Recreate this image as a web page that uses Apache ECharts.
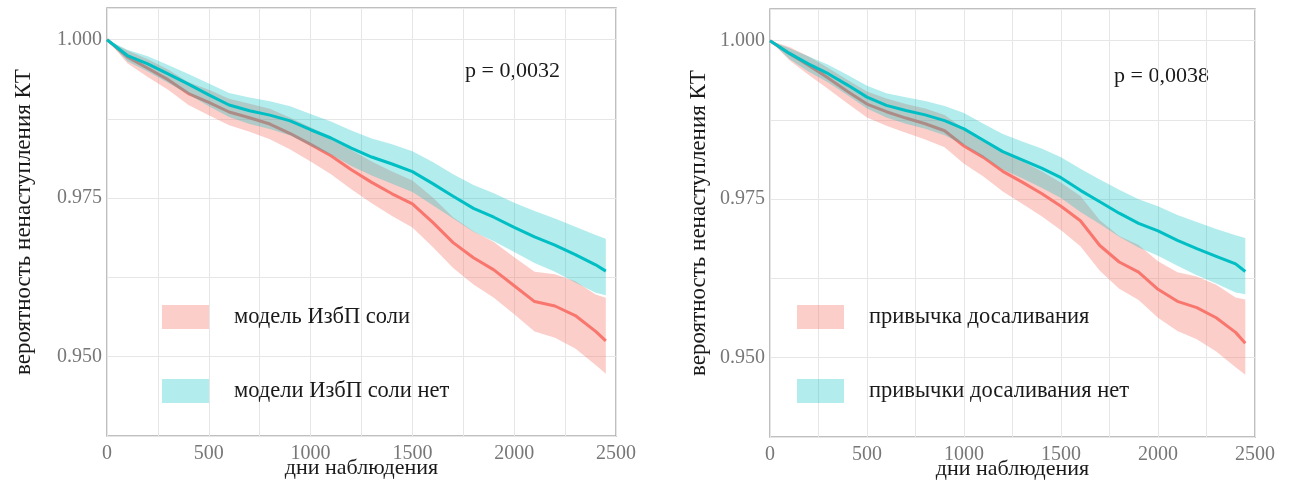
<!DOCTYPE html>
<html>
<head>
<meta charset="utf-8">
<script src="https://cdn.jsdelivr.net/npm/echarts@6/dist/echarts.min.js"></script>
<style>
html,body{margin:0;padding:0;background:#fff;}
#chart{width:1291px;height:481px;}
</style>
</head>
<body>
<div id="chart"></div>
<script>
// ---- data ----
const days = [0,100,200,300,400,500,600,700,800,900,1000,1100,1200,1300,1400,1500,1600,1700,1800,1900,2000,2100,2200,2300,2400,2450];

// left panel: "модель ИзбП соли" (red) / "модели ИзбП соли нет" (teal)
const leftYesLine = [1.0000,0.9973,0.9955,0.9937,0.9915,0.9901,0.9886,0.9877,0.9867,0.9852,0.9835,0.9817,0.9795,0.9775,0.9757,0.9741,0.9712,0.9680,0.9656,0.9637,0.9612,0.9587,0.9580,0.9565,0.9540,0.9525];
const leftYesLow  = [1.0000,0.9963,0.9941,0.9921,0.9897,0.9881,0.9865,0.9855,0.9843,0.9827,0.9808,0.9788,0.9764,0.9742,0.9722,0.9704,0.9673,0.9640,0.9614,0.9593,0.9567,0.9540,0.9530,0.9513,0.9487,0.9473];
const leftYesUp   = [1.0000,0.9983,0.9969,0.9953,0.9933,0.9921,0.9907,0.9899,0.9891,0.9877,0.9862,0.9846,0.9826,0.9808,0.9792,0.9778,0.9751,0.9720,0.9698,0.9681,0.9657,0.9634,0.9630,0.9619,0.9598,0.9593];
const leftNoLine  = [1.0000,0.9975,0.9962,0.9946,0.9930,0.9913,0.9897,0.9888,0.9881,0.9872,0.9858,0.9845,0.9829,0.9815,0.9804,0.9792,0.9773,0.9753,0.9734,0.9720,0.9704,0.9689,0.9676,0.9661,0.9645,0.9635];
const leftNoLow   = [1.0000,0.9966,0.9950,0.9932,0.9914,0.9895,0.9878,0.9867,0.9859,0.9849,0.9833,0.9819,0.9801,0.9786,0.9773,0.9760,0.9739,0.9718,0.9697,0.9682,0.9665,0.9648,0.9634,0.9617,0.9601,0.9597];
const leftNoUp    = [1.0000,0.9984,0.9974,0.9960,0.9946,0.9931,0.9916,0.9909,0.9903,0.9895,0.9883,0.9871,0.9857,0.9844,0.9835,0.9824,0.9807,0.9788,0.9771,0.9758,0.9743,0.9730,0.9718,0.9705,0.9692,0.9686];

// right panel: "привычка досаливания" (red) / "привычки досаливания нет" (teal)
const rightYesLine = [1.0000,0.9980,0.9961,0.9941,0.9920,0.9900,0.9888,0.9878,0.9869,0.9858,0.9834,0.9816,0.9794,0.9777,0.9759,0.9739,0.9716,0.9677,0.9651,0.9635,0.9608,0.9589,0.9579,0.9563,0.9540,0.9523];
const rightYesLow  = [1.0000,0.9969,0.9946,0.9924,0.9901,0.9879,0.9866,0.9855,0.9844,0.9832,0.9806,0.9786,0.9762,0.9743,0.9723,0.9701,0.9676,0.9637,0.9609,0.9591,0.9563,0.9542,0.9529,0.9510,0.9485,0.9473];
const rightYesUp   = [1.0000,0.9990,0.9975,0.9957,0.9938,0.9920,0.9909,0.9900,0.9893,0.9883,0.9861,0.9845,0.9825,0.9810,0.9794,0.9776,0.9755,0.9717,0.9692,0.9678,0.9652,0.9635,0.9628,0.9615,0.9595,0.9592];
const rightNoLine  = [1.0000,0.9980,0.9963,0.9948,0.9930,0.9911,0.9898,0.9890,0.9883,0.9874,0.9861,0.9843,0.9825,0.9812,0.9799,0.9784,0.9764,0.9746,0.9728,0.9712,0.9700,0.9685,0.9672,0.9660,0.9648,0.9636];
const rightNoLow   = [1.0000,0.9971,0.9951,0.9934,0.9914,0.9893,0.9879,0.9869,0.9861,0.9851,0.9836,0.9817,0.9797,0.9783,0.9768,0.9752,0.9730,0.9711,0.9691,0.9674,0.9661,0.9645,0.9630,0.9617,0.9603,0.9600];
const rightNoUp    = [1.0000,0.9988,0.9975,0.9962,0.9946,0.9929,0.9917,0.9911,0.9905,0.9897,0.9886,0.9869,0.9853,0.9841,0.9830,0.9816,0.9798,0.9781,0.9765,0.9750,0.9739,0.9725,0.9714,0.9703,0.9693,0.9689];

const legendLeft  = ['модель ИзбП соли', 'модели ИзбП соли нет'];
const legendRight = ['привычка досаливания', 'привычки досаливания нет'];
const pValues = ['p = 0,0032', 'p = 0,0038'];
const yTickLabels = [0.950, 0.975, 1.000];
const xTickLabels = [0, 500, 1000, 1500, 2000, 2500];
const yTitle = 'вероятность ненаступления КТ';
const xTitle = 'дни наблюдения';

// ---- styling ----
const FONT = "'Liberation Serif', 'DejaVu Serif', serif";
const RED = '#F8766D', TEAL = '#00BFC4';
const RED_BAND = 'rgba(248,118,109,0.36)', TEAL_BAND = 'rgba(0,191,196,0.30)';

function pairs(arr) { return days.map((d, i) => [d, arr[i]]); }

// confidence band drawn as one polygon through the axis scales
function band(idx, name, low, up, color, z) {
  return {
    type: 'custom', name: name, xAxisIndex: idx, yAxisIndex: idx, z: z, silent: true, animation: false,
    color: color, itemStyle: { color: color },
    data: [[days[0], up[0]]],
    encode: { x: 0, y: 1 },
    renderItem: function (params, api) {
      const pts = [];
      for (let i = 0; i < days.length; i++) pts.push(api.coord([days[i], up[i]]));
      for (let i = days.length - 1; i >= 0; i--) pts.push(api.coord([days[i], low[i]]));
      return { type: 'polygon', shape: { points: pts }, style: { fill: color } };
    }
  };
}
function line(idx, arr, color, z) {
  return { type: 'line', xAxisIndex: idx, yAxisIndex: idx, data: pairs(arr), symbol: 'none',
    lineStyle: { color: color, width: 3 }, color: color, silent: true, z: z, animation: false };
}

function xAxis(idx) {
  return { type: 'value', gridIndex: idx, min: 0, max: 2500, interval: 250,
    name: xTitle, nameLocation: 'middle', nameGap: 21, nameMoveOverlap: false,
    nameTextStyle: { fontFamily: FONT, fontSize: 22, color: '#1a1a1a' },
    axisLine: { show: false }, axisTick: { show: false },
    axisLabel: { fontFamily: FONT, fontSize: 20, color: '#777', margin: 8,
      formatter: v => xTickLabels.some(t => Math.abs(t - v) < 1e-6) ? String(v) : '' },
    splitLine: { show: true, lineStyle: { color: '#e6e6e6', width: 1 } } };
}
function yAxis(idx, gap) {
  return { type: 'value', gridIndex: idx, min: 0.9375, max: 1.005, interval: 0.0125,
    name: yTitle, nameLocation: 'middle', nameGap: gap, nameRotate: 90, nameMoveOverlap: false,
    nameTextStyle: { fontFamily: FONT, fontSize: 23, color: '#1a1a1a' },
    axisLine: { show: false }, axisTick: { show: false },
    axisLabel: { fontFamily: FONT, fontSize: 20, color: '#777', margin: 5,
      formatter: v => yTickLabels.some(t => Math.abs(t - v) < 1e-6) ? v.toFixed(3) : '' },
    splitLine: { show: true, lineStyle: { color: '#e6e6e6', width: 1 } } };
}
function legend(left, names) {
  return { left: left, top: 300, orient: 'vertical', itemWidth: 47, itemHeight: 24, itemGap: 50,
    selectedMode: false,
    textStyle: { fontFamily: FONT, fontSize: 22.5, color: '#1a1a1a', padding: [0, 0, 0, 20] },
    data: [
      { name: names[0], icon: 'rect', itemStyle: { color: RED_BAND, borderWidth: 0 } },
      { name: names[1], icon: 'rect', itemStyle: { color: TEAL_BAND, borderWidth: 0 } }
    ] };
}

const chart = echarts.init(document.getElementById('chart'), null, { renderer: 'canvas' });
chart.setOption({
  backgroundColor: '#fff',
  animation: false,
  grid: [
    { left: 107, top: 8, width: 509, height: 428, outerBoundsMode: 'none', containLabel: false,
      show: true, borderColor: '#aaa', borderWidth: 1.5, backgroundColor: 'transparent' },
    { left: 770, top: 9, width: 485, height: 428, outerBoundsMode: 'none', containLabel: false,
      show: true, borderColor: '#aaa', borderWidth: 1.5, backgroundColor: 'transparent' }
  ],
  xAxis: [xAxis(0), xAxis(1)],
  yAxis: [yAxis(0, 72), yAxis(1, 60)],
  legend: [legend(157, legendLeft), legend(792, legendRight)],
  graphic: [
    { type: 'text', left: 465, top: 60, style: { text: pValues[0], fontFamily: FONT, fontSize: 22, fill: '#1a1a1a' } },
    { type: 'text', left: 1114, top: 65, style: { text: pValues[1], fontFamily: FONT, fontSize: 22, fill: '#1a1a1a' } }
  ],
  series: [
    band(0, legendLeft[0], leftYesLow, leftYesUp, RED_BAND, 1),
    line(0, leftYesLine, RED, 2),
    band(0, legendLeft[1], leftNoLow, leftNoUp, TEAL_BAND, 3),
    line(0, leftNoLine, TEAL, 4),
    band(1, legendRight[0], rightYesLow, rightYesUp, RED_BAND, 1),
    line(1, rightYesLine, RED, 2),
    band(1, legendRight[1], rightNoLow, rightNoUp, TEAL_BAND, 3),
    line(1, rightNoLine, TEAL, 4)
  ]
});
</script>
</body>
</html>
